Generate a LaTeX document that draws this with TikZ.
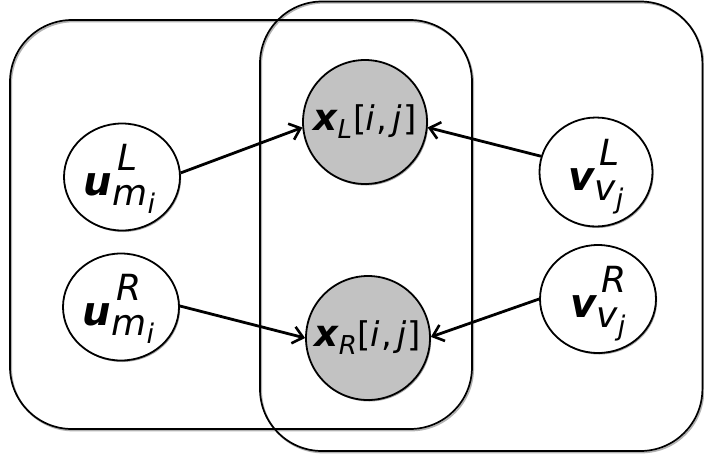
\documentclass[tikz,border=0pt]{standalone}
\usepackage{fontspec}
\usetikzlibrary{arrows.meta,shapes.geometric,shadows}
\newfontfamily\symfont{DejaVu Sans}[UprightFont=*,BoldFont=* Bold,ItalicFont=* Oblique,BoldItalicFont=* Bold Oblique]
% heavy oblique main symbol, light oblique scripts
\newcommand\msym[2]{\hbox{\fontsize{#1}{#1}\selectfont\symfont\bfseries\itshape #2}}
\newcommand\ssym[2]{\hbox{\fontsize{#1}{#1}\selectfont\symfont\itshape #2}}
% index pair in brackets
\newcommand\idx{\hbox{\fontsize{34}{34}\selectfont\symfont
  [\kern-1pt\textit{i}\kern1.5pt,\kern5pt\textit{j}\kern1.5pt]}}
% factor label: main letter with superscript, subscript and sub-subscript
\newcommand\factor[4]{%
  \msym{40}{#1}\rlap{\raisebox{25pt}{\kern5pt\ssym{36}{#2}}}%
  \raisebox{-10pt}{\ssym{36}{#3}\raisebox{-8pt}{\ssym{27}{#4}}}}
% entry label: bold letter, subscript, index pair
\newcommand\entry[2]{\msym{37}{#1}\raisebox{-8pt}{\ssym{26}{#2}}\kern1pt\idx}
\begin{document}
\begin{tikzpicture}[x=1pt,y=-1pt,
  plate/.style={line width=1.7pt,rounded corners=62pt},
  plateshadow/.style={line width=1.7pt,rounded corners=62pt,draw=black!30},
  latent/.style={ellipse,draw,line width=1.8pt,fill=white,inner sep=0pt,
    text height=36pt,text depth=0pt,
    drop shadow={shadow xshift=1.2pt,shadow yshift=-1.5pt,fill=black!35,opacity=1}},
  observed/.style={circle,draw,line width=1.8pt,fill=black!24,inner sep=0pt,
    minimum size=124pt,text height=16pt,text depth=0pt,
    drop shadow={shadow xshift=1.2pt,shadow yshift=-1.5pt,fill=black!35,opacity=1}},
  edge/.style={line width=2.8pt,-{Straight Barb[length=10pt,width=17pt,line width=2.6pt]}}]
\useasboundingbox (0,0) rectangle (704,459);

% the two overlapping plates
\draw[plateshadow] (11.2,21.5) rectangle (473.2,430.5);
\draw[plateshadow] (261.2,2.8) rectangle (703.5,452.5);
\draw[plate] (10,20) rectangle (472,429);
\draw[plate] (260,1.5) rectangle (702.4,451);

% latent factors
\node[latent,minimum width=116pt,minimum height=107pt] (uL) at (122,177)
  {\factor{u}{L}{m}{i}\kern5pt};
\node[latent,minimum width=116pt,minimum height=107pt] (uR) at (121,307)
  {\factor{u}{R}{m}{i}\kern5pt};
\node[latent,minimum width=113pt,minimum height=109pt] (vL) at (596,172)
  {\factor{v}{L}{v}{j}};
\node[latent,minimum width=116pt,minimum height=108pt] (vR) at (598,299)
  {\factor{v}{R}{v}{j}};

% observed entries
\node[observed] (xL) at (365,122) {\entry{x}{L}};
\node[observed] (xR) at (368,338) {\entry{x}{R}};

% dependencies
\draw[edge] (uL.4) -- (xL.185);
\draw[edge] (vL.164) -- (xL.355);
\draw[edge] (uR.1) -- (xR.180);
\draw[edge] (vR.180) -- (xR.1);
\end{tikzpicture}
\end{document}
